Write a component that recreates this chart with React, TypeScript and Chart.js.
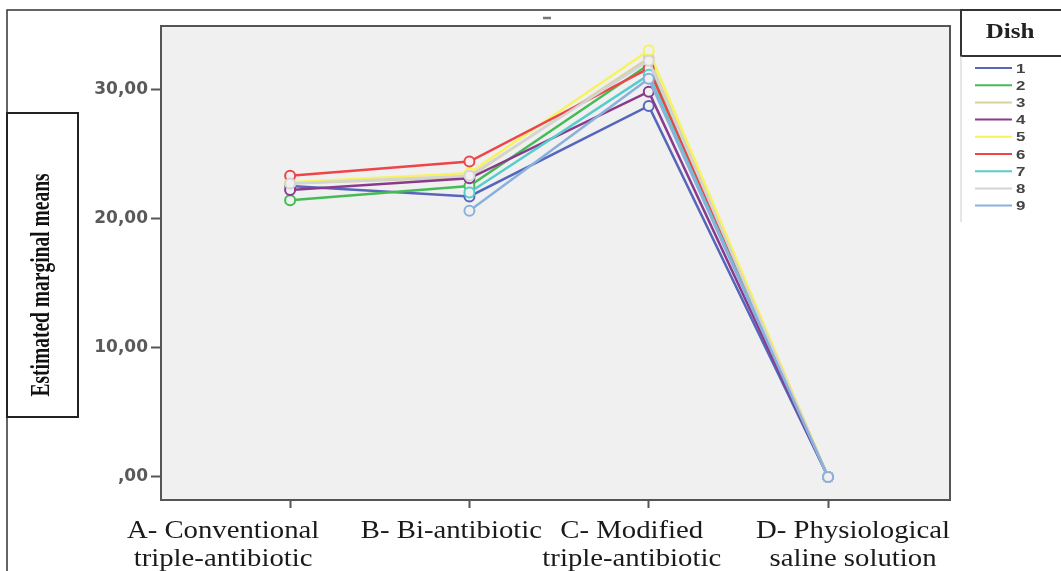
import React, { useEffect, useRef } from "react";
import { Chart, registerables } from "chart.js";

Chart.register(...registerables);

// ---- data ----
const categories: string[][] = [
  ["A- Conventional", "triple-antibiotic"],
  ["B- Bi-antibiotic"],
  ["C- Modified", "triple-antibiotic"],
  ["D- Physiological", "saline solution"],
];
const dishNames = ["1", "2", "3", "4", "5", "6", "7", "8", "9"];
const dish1 = [22.5, 21.7, 28.7, 0];
const dish2 = [21.4, 22.5, 31.9, 0];
const dish3 = [22.7, 23.2, 32.4, 0];
const dish4 = [22.2, 23.1, 29.8, 0];
const dish5 = [22.8, 23.5, 33.0, 0];
const dish6 = [23.3, 24.4, 31.6, 0];
const dish7 = [null, 22.0, 31.1, 0];
const dish8 = [22.7, 23.3, 32.2, 0];
const dish9 = [null, 20.6, 30.8, 0];
const dishSeries = [dish1, dish2, dish3, dish4, dish5, dish6, dish7, dish8, dish9];
const yTicks = [0, 10, 20, 30];
const yTitle = "Estimated marginal means";
const legendTitle = "Dish";

// ---- styles ----
const colors = [
  "#5566bb",
  "#44bb55",
  "#d6d2a0",
  "#8a3a8c",
  "#f7f35e",
  "#ef4448",
  "#58cccc",
  "#d4d4d4",
  "#8ab0de",
];
const labelOffsets = [-67, -18, -17, 25];
const PLOT_BG = "#f0f0f0";

const decorPlugin = {
  id: "decor",
  beforeDraw(chart: any) {
    const { ctx, chartArea: a, width, height } = chart;
    ctx.save();
    ctx.fillStyle = "#ffffff";
    ctx.fillRect(0, 0, width, height);
    ctx.fillStyle = PLOT_BG;
    ctx.fillRect(a.left, a.top, a.right - a.left, a.bottom - a.top);
    ctx.restore();
  },
  afterDraw(chart: any) {
    const { ctx, chartArea: a, width, height } = chart;
    const xs = chart.scales.x;
    ctx.save();
    // outer frame
    ctx.strokeStyle = "#333";
    ctx.lineWidth = 1.5;
    ctx.beginPath();
    ctx.moveTo(7, height + 2);
    ctx.lineTo(7, 10);
    ctx.lineTo(width + 2, 10);
    ctx.stroke();
    // plot border
    ctx.strokeStyle = "#555";
    ctx.lineWidth = 2;
    ctx.strokeRect(a.left, a.top, a.right - a.left, a.bottom - a.top);
    // small title mark
    ctx.strokeStyle = "#777";
    ctx.lineWidth = 2.5;
    ctx.beginPath();
    ctx.moveTo(543, 18);
    ctx.lineTo(551, 18);
    ctx.stroke();
    // y-title box
    ctx.fillStyle = "#fff";
    ctx.fillRect(7, 113, 71, 304);
    ctx.strokeStyle = "#222";
    ctx.lineWidth = 2;
    ctx.strokeRect(7, 113, 71, 304);
    ctx.save();
    ctx.translate(42, 285);
    ctx.rotate(-Math.PI / 2);
    ctx.scale(1, 1.45);
    ctx.fillStyle = "#111";
    ctx.font = 'bold 19.5px "Liberation Serif"';
    ctx.textAlign = "center";
    ctx.textBaseline = "middle";
    ctx.fillText(yTitle, 0, 0);
    ctx.restore();
    // legend box
    ctx.fillStyle = "#fff";
    ctx.fillRect(961, 10, width, 46);
    ctx.strokeStyle = "#333";
    ctx.lineWidth = 2;
    ctx.strokeRect(961, 10, width, 46);
    ctx.save();
    ctx.translate(1010, 33);
    ctx.scale(1.25, 1);
    ctx.fillStyle = "#222";
    ctx.font = 'bold 20px "Liberation Serif"';
    ctx.textAlign = "center";
    ctx.textBaseline = "middle";
    ctx.fillText(legendTitle, 0, 0);
    ctx.restore();
    ctx.strokeStyle = "#ccc";
    ctx.lineWidth = 1;
    ctx.beginPath();
    ctx.moveTo(961, 56);
    ctx.lineTo(961, 222);
    ctx.stroke();
    chart.data.datasets.forEach((ds: any, i: number) => {
      const y = 68 + i * 17.2;
      ctx.strokeStyle = ds.borderColor;
      ctx.lineWidth = 2;
      ctx.beginPath();
      ctx.moveTo(975, y);
      ctx.lineTo(1012, y);
      ctx.stroke();
      ctx.save();
      ctx.translate(1016, y);
      ctx.scale(1.3, 1);
      ctx.fillStyle = "#444";
      ctx.font = 'bold 13px "Liberation Sans"';
      ctx.textAlign = "left";
      ctx.textBaseline = "middle";
      ctx.fillText(ds.label, 0, 1);
      ctx.restore();
    });
    // x category labels
    categories.forEach((lines, i) => {
      const cx = xs.getPixelForValue(i) + labelOffsets[i];
      lines.forEach((line, j) => {
        ctx.save();
        ctx.translate(cx, 531 + j * 28);
        ctx.scale(1.15, 1);
        ctx.fillStyle = "#1a1a1a";
        ctx.font = '25px "Liberation Serif"';
        ctx.textAlign = "center";
        ctx.textBaseline = "middle";
        ctx.fillText(line, 0, 0);
        ctx.restore();
      });
    });
    ctx.restore();
  },
};

export default function App() {
  const ref = useRef<HTMLCanvasElement | null>(null);
  useEffect(() => {
    if (!ref.current) return;
    const datasets = dishSeries.map((vals, i) => ({
      label: dishNames[i],
      data: vals.map((y, k) => ({ x: k, y })),
      borderColor: colors[i],
      backgroundColor: colors[i],
      pointBorderColor: colors[i],
      pointBackgroundColor: PLOT_BG,
      pointRadius: 5,
      pointBorderWidth: 2,
      borderWidth: 2.5,
      spanGaps: false,
      order: dishSeries.length - i,
    }));
    const chart = new Chart(ref.current, {
      type: "line",
      data: { datasets },
      plugins: [decorPlugin],
      options: {
        responsive: false,
        animation: false,
        devicePixelRatio: 1,
        layout: { padding: { top: 26, right: 111, left: 0, bottom: 0 } },
        plugins: { legend: { display: false }, tooltip: { enabled: false } },
        scales: {
          x: {
            type: "linear",
            min: -0.72,
            max: 3.68,
            afterFit: (s: any) => {
              s.height = 71;
            },
            afterBuildTicks: (s: any) => {
              s.ticks = categories.map((_, i) => ({ value: i }));
            },
            ticks: { callback: () => "", includeBounds: false },
            grid: {
              drawOnChartArea: false,
              drawTicks: true,
              tickLength: 8,
              tickColor: "#555",
              tickWidth: 2,
            },
            border: { display: false },
          },
          y: {
            type: "linear",
            min: -1.78,
            max: 34.88,
            afterFit: (s: any) => {
              s.width = 161;
            },
            afterBuildTicks: (s: any) => {
              s.ticks = yTicks.map((v) => ({ value: v }));
            },
            ticks: {
              includeBounds: false,
              padding: 3,
              color: "#5a5a5a",
              font: { family: "DejaVu Sans", size: 17, weight: "bold" },
              callback: (v: any) =>
                Number(v) === 0 ? ",00" : Number(v).toFixed(2).replace(".", ","),
            },
            grid: {
              drawOnChartArea: false,
              drawTicks: true,
              tickLength: 10,
              tickColor: "#555",
              tickWidth: 2,
            },
            border: { display: false },
          },
        },
      },
    } as any);
    return () => chart.destroy();
  }, []);
  return (
    <div style={{ position: "fixed", left: 0, top: 0, width: 1061, height: 571 }}>
      <canvas ref={ref} width={1061} height={571} />
    </div>
  );
}
